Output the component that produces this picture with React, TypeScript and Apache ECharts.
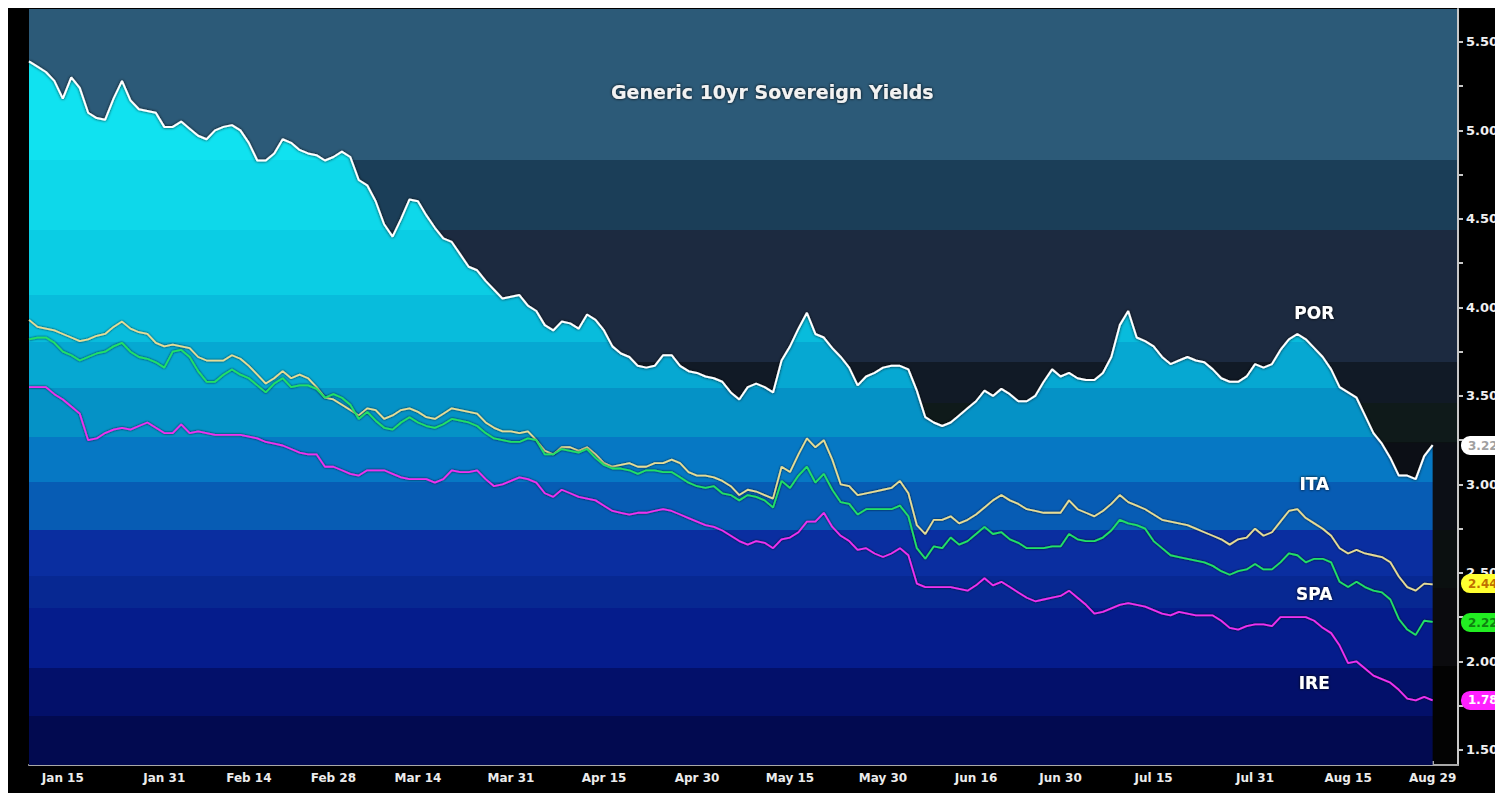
import React, { useEffect, useRef } from 'react';
import * as echarts from 'echarts';

// ---------- categories (trading days) ----------
const MONTHS = ['Jan', 'Feb', 'Mar', 'Apr', 'May', 'Jun', 'Jul', 'Aug', 'Sep', 'Oct', 'Nov', 'Dec'];
const FIRST_DAY = '2014-01-09';
const LAST_AXIS_DAY = '2014-09-03';

function weekdays(start: string, end: string): string[] {
  const out: string[] = [];
  const t1 = Date.parse(end + 'T00:00:00Z');
  for (let t = Date.parse(start + 'T00:00:00Z'); t <= t1; t += 86400000) {
    const d = new Date(t);
    const wd = d.getUTCDay();
    if (wd !== 0 && wd !== 6) out.push(d.toISOString().slice(0, 10));
  }
  return out;
}
const DATES = weekdays(FIRST_DAY, LAST_AXIS_DAY);

const X_TICK_LABELS = [
  '2014-01-15', '2014-01-31', '2014-02-14', '2014-02-28', '2014-03-14', '2014-03-31',
  '2014-04-15', '2014-04-30', '2014-05-15', '2014-05-30', '2014-06-16', '2014-06-30',
  '2014-07-15', '2014-07-31', '2014-08-15', '2014-08-29',
];
const X_MINOR_TICKS = [
  '2014-01-23', '2014-02-07', '2014-02-21', '2014-03-07', '2014-03-21', '2014-04-07',
  '2014-04-22', '2014-05-07', '2014-05-22', '2014-06-06', '2014-06-23', '2014-07-07',
  '2014-07-23', '2014-08-07', '2014-08-22',
];

const Y_MIN = 1.415;
const Y_MAX = 5.686;
const Y_TICK_LABELS = [1.5, 2.0, 2.5, 3.0, 3.5, 4.0, 4.5, 5.0, 5.5];
const Y_TICKS = [1.5, 1.75, 2.0, 2.25, 2.5, 2.75, 3.0, 3.25, 3.5, 3.75, 4.0, 4.25, 4.5, 4.75, 5.0, 5.25, 5.5];

// ---------- series values ----------
const POR = [
  5.39, 5.36, 5.33, 5.28, 5.18, 5.30, 5.24, 5.10, 5.07, 5.06,
  5.18, 5.28, 5.17, 5.12, 5.11, 5.10, 5.02, 5.02, 5.05, 5.01,
  4.97, 4.95, 5.00, 5.02, 5.03, 5.00, 4.93, 4.83, 4.83, 4.87,
  4.95, 4.93, 4.89, 4.87, 4.86, 4.83, 4.85, 4.88, 4.85, 4.72,
  4.69, 4.60, 4.47, 4.40, 4.50, 4.61, 4.60, 4.52, 4.45, 4.39,
  4.37, 4.30, 4.23, 4.21, 4.15, 4.10, 4.05, 4.06, 4.07, 4.01,
  3.98, 3.90, 3.87, 3.92, 3.91, 3.88, 3.96, 3.93, 3.87, 3.78,
  3.74, 3.72, 3.67, 3.66, 3.67, 3.73, 3.73, 3.67, 3.64, 3.63,
  3.61, 3.60, 3.58, 3.52, 3.48, 3.55, 3.57, 3.55, 3.52, 3.70,
  3.78, 3.88, 3.97, 3.85, 3.83, 3.77, 3.72, 3.66, 3.56, 3.61,
  3.63, 3.66, 3.67, 3.67, 3.65, 3.53, 3.38, 3.35, 3.33, 3.35,
  3.39, 3.43, 3.47, 3.53, 3.50, 3.54, 3.51, 3.47, 3.47, 3.50,
  3.58, 3.65, 3.61, 3.63, 3.60, 3.59, 3.59, 3.63, 3.72, 3.90,
  3.98, 3.83, 3.81, 3.78, 3.72, 3.68, 3.70, 3.72, 3.70, 3.69,
  3.65, 3.60, 3.58, 3.58, 3.61, 3.68, 3.66, 3.68, 3.76, 3.82,
  3.85, 3.82, 3.77, 3.72, 3.65, 3.55, 3.52, 3.49, 3.39, 3.29,
  3.23, 3.15, 3.05, 3.05, 3.03, 3.16, 3.222,
];
const ITA = [
  3.93, 3.89, 3.88, 3.87, 3.85, 3.83, 3.81, 3.82, 3.84, 3.85,
  3.89, 3.92, 3.88, 3.86, 3.85, 3.80, 3.78, 3.79, 3.78, 3.77,
  3.72, 3.70, 3.70, 3.70, 3.73, 3.71, 3.67, 3.62, 3.57, 3.60,
  3.64, 3.60, 3.62, 3.60, 3.55, 3.49, 3.48, 3.45, 3.42, 3.39,
  3.43, 3.42, 3.37, 3.39, 3.42, 3.43, 3.41, 3.38, 3.37, 3.40,
  3.43, 3.42, 3.41, 3.40, 3.35, 3.32, 3.30, 3.30, 3.29, 3.30,
  3.25, 3.19, 3.17, 3.21, 3.21, 3.19, 3.21, 3.17, 3.12, 3.10,
  3.11, 3.12, 3.10, 3.10, 3.12, 3.12, 3.14, 3.12, 3.07, 3.05,
  3.05, 3.04, 3.02, 2.99, 2.94, 2.97, 2.96, 2.94, 2.92, 3.10,
  3.07, 3.17, 3.26, 3.21, 3.25, 3.14, 3.00, 2.99, 2.94, 2.95,
  2.96, 2.97, 2.98, 3.02, 2.95, 2.77, 2.72, 2.80, 2.80, 2.82,
  2.78, 2.80, 2.83, 2.87, 2.91, 2.94, 2.91, 2.89, 2.86, 2.85,
  2.84, 2.84, 2.84, 2.91, 2.86, 2.84, 2.82, 2.85, 2.89, 2.94,
  2.90, 2.88, 2.86, 2.83, 2.80, 2.79, 2.78, 2.77, 2.75, 2.73,
  2.71, 2.69, 2.66, 2.69, 2.70, 2.75, 2.71, 2.73, 2.79, 2.85,
  2.86, 2.81, 2.78, 2.75, 2.71, 2.64, 2.61, 2.63, 2.61, 2.60,
  2.59, 2.56, 2.48, 2.42, 2.40, 2.44, 2.436,
];
const SPA = [
  3.82, 3.83, 3.83, 3.80, 3.75, 3.73, 3.70, 3.72, 3.74, 3.75,
  3.78, 3.80, 3.75, 3.72, 3.71, 3.69, 3.66, 3.75, 3.76, 3.72,
  3.64, 3.58, 3.58, 3.62, 3.65, 3.62, 3.60, 3.56, 3.52, 3.57,
  3.60, 3.55, 3.56, 3.56, 3.54, 3.49, 3.51, 3.49, 3.45, 3.37,
  3.41, 3.36, 3.32, 3.31, 3.35, 3.38, 3.35, 3.33, 3.32, 3.34,
  3.37, 3.36, 3.35, 3.33, 3.29, 3.26, 3.25, 3.24, 3.24, 3.26,
  3.25, 3.17, 3.17, 3.20, 3.19, 3.18, 3.20, 3.15, 3.11, 3.09,
  3.09, 3.08, 3.06, 3.08, 3.08, 3.07, 3.07, 3.04, 3.01, 2.99,
  2.98, 2.99, 2.95, 2.94, 2.91, 2.94, 2.93, 2.91, 2.87, 3.02,
  2.98, 3.05, 3.10, 3.01, 3.06, 2.97, 2.90, 2.89, 2.83, 2.86,
  2.86, 2.86, 2.86, 2.88, 2.82, 2.64, 2.58, 2.65, 2.64, 2.70,
  2.66, 2.68, 2.72, 2.76, 2.72, 2.73, 2.69, 2.67, 2.64, 2.64,
  2.64, 2.65, 2.65, 2.72, 2.69, 2.68, 2.68, 2.70, 2.74, 2.80,
  2.78, 2.77, 2.75, 2.68, 2.64, 2.60, 2.59, 2.58, 2.57, 2.56,
  2.54, 2.51, 2.49, 2.51, 2.52, 2.55, 2.52, 2.52, 2.56, 2.61,
  2.60, 2.56, 2.58, 2.58, 2.56, 2.45, 2.42, 2.45, 2.42, 2.40,
  2.39, 2.35, 2.24, 2.18, 2.15, 2.23, 2.224,
];
const IRE = [
  3.55, 3.55, 3.55, 3.51, 3.48, 3.44, 3.40, 3.25, 3.26, 3.29,
  3.31, 3.32, 3.31, 3.33, 3.35, 3.32, 3.29, 3.29, 3.34, 3.29,
  3.30, 3.29, 3.28, 3.28, 3.28, 3.28, 3.27, 3.26, 3.24, 3.23,
  3.22, 3.20, 3.18, 3.17, 3.17, 3.10, 3.10, 3.08, 3.06, 3.05,
  3.08, 3.08, 3.08, 3.06, 3.04, 3.03, 3.03, 3.03, 3.01, 3.03,
  3.08, 3.07, 3.07, 3.08, 3.03, 2.99, 3.00, 3.02, 3.04, 3.03,
  3.01, 2.95, 2.93, 2.97, 2.95, 2.93, 2.92, 2.91, 2.88, 2.85,
  2.84, 2.83, 2.84, 2.84, 2.85, 2.86, 2.85, 2.83, 2.81, 2.79,
  2.77, 2.76, 2.74, 2.71, 2.68, 2.66, 2.68, 2.67, 2.64, 2.69,
  2.70, 2.73, 2.79, 2.79, 2.84, 2.76, 2.71, 2.68, 2.63, 2.64,
  2.61, 2.59, 2.61, 2.64, 2.60, 2.44, 2.42, 2.42, 2.42, 2.42,
  2.41, 2.40, 2.43, 2.47, 2.43, 2.45, 2.42, 2.39, 2.36, 2.34,
  2.35, 2.36, 2.37, 2.40, 2.36, 2.32, 2.27, 2.28, 2.30, 2.32,
  2.33, 2.32, 2.31, 2.29, 2.27, 2.26, 2.28, 2.27, 2.26, 2.26,
  2.26, 2.23, 2.19, 2.18, 2.20, 2.21, 2.21, 2.20, 2.25, 2.25,
  2.25, 2.25, 2.23, 2.19, 2.16, 2.09, 1.99, 2.00, 1.96, 1.92,
  1.90, 1.88, 1.84, 1.79, 1.78, 1.80, 1.780,
];

// series name labels (anchor date index + value)
const NAME_LABELS = [
  { name: 'POR', at: 152, value: 3.969 },
  { name: 'ITA', at: 152, value: 3.003 },
  { name: 'SPA', at: 152, value: 2.381 },
  { name: 'IRE', at: 152, value: 1.879 },
];

// colour bands (value edges, descending)
const AREA_BAND_EDGES = [5.686, 4.833, 4.438, 4.071, 3.805, 3.545, 3.268, 3.014, 2.743, 2.483, 2.302, 1.963, 1.692, 1.415];
const AREA_BAND_COLORS = ['#10e2f0', '#0ed8ea', '#0bcde4', '#08bcdc', '#06a8d2', '#0592c6', '#0678c4', '#075cb4', '#0a2ea0', '#072892', '#051c8c', '#03106a', '#020a50'];
const BG_BAND_EDGES = [5.686, 4.833, 4.438, 3.692, 3.46, 3.235, 2.743, 2.415, 1.975, 1.415];
const BG_BAND_COLORS = ['#2c5a78', '#1b3e58', '#1c2a40', '#111a26', '#0f1a1a', '#0c0f16', '#0b1010', '#0b0b0e', '#030303'];

const FONT = 'DejaVu Sans';

function fmtDate(s: string): string {
  const m = parseInt(s.slice(5, 7), 10) - 1;
  const d = parseInt(s.slice(8, 10), 10);
  return MONTHS[m] + ' ' + d;
}

function buildOption(): any {
  const labelSet = new Set(X_TICK_LABELS);
  const tickSet = new Set([...X_TICK_LABELS, ...X_MINOR_TICKS]);

  const vTop = Math.max(...POR);
  const span = vTop - Y_MIN;
  const stops: { offset: number; color: string }[] = [];
  AREA_BAND_COLORS.forEach((c, k) => {
    const hi = Math.min(AREA_BAND_EDGES[k], vTop);
    const lo = AREA_BAND_EDGES[k + 1];
    if (lo >= vTop) return;
    stops.push({ offset: (vTop - hi) / span, color: c });
    stops.push({ offset: Math.min(1, (vTop - lo) / span), color: c });
  });
  const areaGradient = new echarts.graphic.LinearGradient(0, 0, 0, 1, stops);

  const bgData = BG_BAND_COLORS.map((c, k) => [
    { yAxis: BG_BAND_EDGES[k], itemStyle: { color: c } },
    { yAxis: BG_BAND_EDGES[k + 1] },
  ]);

  const tag = (value: number, bg: string, fg: string) => ({
    silent: true,
    symbol: ['none', 'none'],
    lineStyle: { color: 'rgba(0,0,0,0)', width: 1, type: 'solid' },
    emphasis: { disabled: true },
    data: [{ yAxis: value }],
    label: {
      show: true,
      position: 'end',
      distance: 3,
      formatter: (p: any) => Number(p.value).toFixed(3),
      backgroundColor: bg,
      color: fg,
      fontFamily: FONT,
      fontSize: 12,
      fontWeight: 'bold',
      padding: [4, 6, 3, 7],
      borderRadius: [9, 2, 2, 9],
    },
  });

  const nameMark = (n: { name: string; at: number; value: number }) => ({
    symbol: 'rect',
    symbolSize: 1,
    itemStyle: { color: 'rgba(0,0,0,0)' },
    silent: true,
    label: {
      show: true,
      position: 'inside',
      formatter: n.name,
      color: '#ffffff',
      fontFamily: FONT,
      fontSize: 17,
      fontWeight: 'bold',
      textShadowColor: '#000',
      textShadowBlur: 3,
    },
    data: [{ coord: [DATES[n.at], n.value] }],
  });

  const lineSeries = (name: string, data: number[], color: string, width: number, tagBg: string, tagFg: string, idx: number) => ({
    name,
    type: 'line',
    data,
    symbol: 'none',
    clip: false,
    lineStyle: { color, width, shadowColor: 'rgba(0,0,0,0.8)', shadowBlur: 2 },
    markLine: tag(data[data.length - 1], tagBg, tagFg),
    markPoint: nameMark(NAME_LABELS[idx]),
  });

  return {
    animation: false,
    backgroundColor: '#000000',
    title: {
      text: 'Generic 10yr Sovereign Yields',
      left: 598,
      top: 69,
      textStyle: {
        color: '#f2f2f2',
        fontFamily: FONT,
        fontSize: 19,
        fontWeight: 'bold',
        textShadowColor: '#000',
        textShadowBlur: 3,
      },
    },
    grid: { left: 21, top: 1, right: 45, bottom: 28, containLabel: false, outerBoundsMode: 'none' },
    xAxis: {
      type: 'category',
      data: DATES,
      boundaryGap: false,
      name: '2014',
      nameLocation: 'middle',
      nameGap: 31,
      nameTextStyle: { color: '#e0e0e0', fontFamily: FONT, fontSize: 11, fontWeight: 'bold' },
      axisLine: { show: true, lineStyle: { color: '#a8a8a8', width: 2 } },
      axisTick: {
        show: true,
        inside: true,
        length: 4,
        interval: (_i: number, v: string) => tickSet.has(v),
        lineStyle: { color: '#a8a8a8', width: 2 },
      },
      axisLabel: {
        interval: (_i: number, v: string) => labelSet.has(v),
        formatter: (v: string) => fmtDate(v),
        color: '#ececec',
        fontFamily: FONT,
        fontSize: 12,
        fontWeight: 'bold',
        margin: 7,
      },
      splitLine: { show: false },
    },
    yAxis: {
      type: 'value',
      position: 'right',
      min: Y_MIN,
      max: Y_MAX,
      axisLine: { show: true, lineStyle: { color: '#c8c8c8', width: 2 } },
      axisTick: {
        show: true,
        length: 5,
        customValues: Y_TICKS,
        lineStyle: { color: '#c8c8c8', width: 2 },
      },
      axisLabel: {
        customValues: Y_TICK_LABELS,
        formatter: (v: number) => v.toFixed(3),
        color: '#f0f0f0',
        fontFamily: FONT,
        fontSize: 13,
        fontWeight: 'bold',
        margin: 8,
      },
      splitLine: { show: false },
    },
    series: [
      {
        name: 'POR',
        type: 'line',
        data: POR,
        symbol: 'none',
        clip: false,
        z: 2,
        lineStyle: { color: '#ffffff', width: 2, shadowColor: 'rgba(0,0,0,0.9)', shadowBlur: 3 },
        areaStyle: { color: areaGradient, opacity: 1 },
        markArea: { silent: true, z: 0, data: bgData },
        markLine: tag(POR[POR.length - 1], '#ffffff', '#a0a0a0'),
        markPoint: nameMark(NAME_LABELS[0]),
      },
      lineSeries('ITA', ITA, '#e6dc96', 1.8, '#ffff30', '#c07000', 1),
      lineSeries('SPA', SPA, '#22e066', 1.8, '#22ee22', '#108010', 2),
      lineSeries('IRE', IRE, '#ee30ee', 1.8, '#ff20ff', '#ffffff', 3),
    ],
  };
}

export default function App() {
  const ref = useRef<HTMLDivElement>(null);
  useEffect(() => {
    if (!ref.current) return;
    const chart = echarts.init(ref.current, undefined, { renderer: 'svg' });
    chart.setOption(buildOption());
    return () => chart.dispose();
  }, []);
  return <div ref={ref} style={{ width: 1495, height: 785, background: '#000' }} />;
}
